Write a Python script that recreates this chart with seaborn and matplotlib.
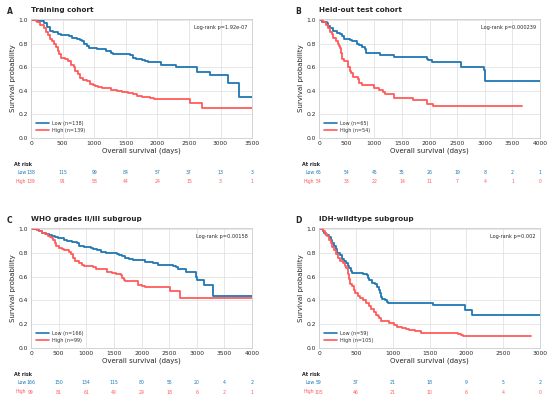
import numpy as np
import pandas as pd
import matplotlib
matplotlib.use("Agg")
import matplotlib.pyplot as plt
import matplotlib.transforms as mtransforms
import seaborn as sns

# Kaplan-Meier step points (time in days, survival after the step)
a_low_t = [0, 100, 200, 250, 300, 350, 420, 470, 600, 650, 730, 780, 800, 840, 880, 920, 1050, 1180, 1260, 1300,
           1570, 1620, 1660, 1750, 1800, 1850, 2050, 2300, 2620, 2840, 3120, 3300, 3500]
a_low_s = [1.0, 0.99, 0.97, 0.94, 0.91, 0.90, 0.88, 0.87, 0.86, 0.85, 0.84, 0.83, 0.82, 0.80, 0.78, 0.76, 0.75, 0.74, 0.72, 0.71,
           0.70, 0.68, 0.67, 0.66, 0.65, 0.64, 0.62, 0.60, 0.56, 0.53, 0.47, 0.35, 0.35]
a_high_t = [0, 80, 100, 150, 200, 230, 270, 300, 330, 370, 400, 420, 450, 480, 540, 580, 640, 680, 700, 740,
            780, 820, 880, 940, 980, 1020, 1060, 1120, 1260, 1360, 1440, 1530, 1620, 1680, 1760, 1880, 1950, 2520, 2700, 3500]
a_high_s = [1.0, 0.99, 0.98, 0.96, 0.93, 0.90, 0.87, 0.84, 0.82, 0.80, 0.77, 0.74, 0.71, 0.68, 0.67, 0.65, 0.62, 0.60, 0.57, 0.54,
            0.51, 0.49, 0.48, 0.46, 0.45, 0.44, 0.43, 0.42, 0.41, 0.40, 0.39, 0.38, 0.37, 0.36, 0.35, 0.34, 0.33, 0.30, 0.25, 0.25]

b_low_t = [0, 60, 150, 170, 200, 250, 330, 380, 420, 450, 560, 600, 680, 720, 780, 830, 850, 1100, 1360, 1960,
           1980, 2050, 2560, 2980, 2995, 3010, 4000]
b_low_s = [1.0, 0.98, 0.97, 0.95, 0.93, 0.91, 0.89, 0.88, 0.86, 0.84, 0.83, 0.82, 0.80, 0.79, 0.77, 0.75, 0.72, 0.70, 0.69, 0.67,
           0.66, 0.64, 0.60, 0.58, 0.55, 0.48, 0.48]
b_high_t = [0, 80, 120, 170, 200, 230, 260, 310, 340, 360, 380, 400, 420, 460, 520, 560, 580, 620, 700, 720,
            780, 1000, 1080, 1160, 1200, 1360, 1700, 1950, 2070, 3670]
b_high_s = [1.0, 0.98, 0.96, 0.93, 0.90, 0.88, 0.85, 0.82, 0.80, 0.78, 0.76, 0.72, 0.67, 0.65, 0.60, 0.57, 0.55, 0.52, 0.50, 0.47,
            0.45, 0.42, 0.41, 0.39, 0.37, 0.34, 0.32, 0.29, 0.27, 0.27]

c_low_t = [0, 100, 150, 200, 270, 320, 380, 430, 480, 600, 650, 740, 840, 870, 950, 1080, 1120, 1200, 1260, 1350,
           1550, 1600, 1650, 1700, 1780, 1850, 2060, 2200, 2300, 2560, 2620, 2660, 2800, 2980, 3000, 3130, 3300, 4000]
c_low_s = [1.0, 0.99, 0.98, 0.97, 0.96, 0.95, 0.94, 0.93, 0.92, 0.91, 0.90, 0.89, 0.88, 0.86, 0.85, 0.84, 0.83, 0.82, 0.81, 0.80,
           0.79, 0.78, 0.77, 0.76, 0.75, 0.74, 0.72, 0.71, 0.70, 0.69, 0.68, 0.66, 0.64, 0.60, 0.57, 0.53, 0.44, 0.44]
c_high_t = [0, 100, 150, 200, 260, 300, 340, 380, 400, 430, 460, 500, 560, 600, 680, 720, 760, 800, 860, 920,
            960, 1130, 1180, 1380, 1460, 1540, 1620, 1650, 1680, 1700, 1930, 2000, 2060, 2510, 2700, 4000]
c_high_s = [1.0, 0.99, 0.98, 0.97, 0.96, 0.94, 0.93, 0.92, 0.91, 0.88, 0.86, 0.84, 0.83, 0.82, 0.81, 0.79, 0.76, 0.73, 0.71, 0.70,
            0.69, 0.68, 0.66, 0.64, 0.63, 0.62, 0.61, 0.59, 0.57, 0.56, 0.53, 0.52, 0.51, 0.48, 0.42, 0.42]

d_low_t = [0, 50, 70, 100, 130, 160, 180, 200, 230, 250, 280, 310, 340, 370, 390, 410, 430, 450, 600, 650,
           660, 680, 720, 760, 790, 820, 830, 840, 860, 900, 920, 930, 1550, 1980, 2080, 3000]
d_low_s = [1.0, 0.98, 0.97, 0.95, 0.93, 0.91, 0.88, 0.86, 0.83, 0.80, 0.78, 0.75, 0.73, 0.71, 0.69, 0.67, 0.65, 0.63, 0.62, 0.61,
           0.59, 0.57, 0.55, 0.54, 0.51, 0.49, 0.46, 0.43, 0.41, 0.40, 0.39, 0.38, 0.36, 0.32, 0.28, 0.28]
d_high_t = [0, 50, 80, 110, 140, 160, 180, 210, 230, 260, 290, 320, 350, 370, 390, 400, 410, 420, 450, 470,
            490, 530, 560, 600, 640, 680, 710, 740, 780, 800, 820, 840, 950, 1020, 1060, 1120, 1180, 1220, 1300, 1380,
            1880, 1920, 1950, 2870]
d_high_s = [1.0, 0.98, 0.96, 0.94, 0.91, 0.88, 0.85, 0.82, 0.79, 0.76, 0.73, 0.71, 0.69, 0.67, 0.65, 0.62, 0.58, 0.54, 0.52, 0.49,
            0.46, 0.44, 0.42, 0.40, 0.38, 0.35, 0.33, 0.30, 0.28, 0.27, 0.25, 0.23, 0.21, 0.19, 0.18, 0.17, 0.16, 0.15, 0.14, 0.13,
            0.12, 0.11, 0.10, 0.10]

# Panel texts
letters = ["A", "B", "C", "D"]
titles = ["Training cohort", "Held-out test cohort", "WHO grades II/III subgroup", "IDH-wildtype subgroup"]
pvals = ["Log-rank p=1.92e-07", "Log-rank p=0.000239", "Log-rank p=0.00158", "Log-rank p=0.002"]
n_low = [138, 65, 166, 59]
n_high = [139, 54, 99, 105]
xmax = [3500, 4000, 4000, 3000]

# Numbers at risk at each 500-day tick
risk_low = [[138, 115, 99, 84, 57, 37, 13, 3],
            [65, 54, 45, 35, 26, 19, 8, 2, 1],
            [166, 150, 134, 115, 80, 55, 20, 4, 2],
            [59, 37, 21, 18, 9, 5, 2]]
risk_high = [[139, 91, 58, 44, 24, 15, 3, 1],
             [54, 33, 22, 14, 11, 7, 4, 1, 0],
             [99, 81, 61, 49, 29, 18, 6, 2, 1],
             [105, 46, 21, 10, 6, 4, 0]]

curves = [(a_low_t, a_low_s, a_high_t, a_high_s),
          (b_low_t, b_low_s, b_high_t, b_high_s),
          (c_low_t, c_low_s, c_high_t, c_high_s),
          (d_low_t, d_low_s, d_high_t, d_high_s)]

blue = "#1f77b4"
red = "#ff5a5a"

sns.set_theme(style="whitegrid")
plt.rcParams["font.family"] = ["DejaVu Sans"]
plt.rcParams["axes.edgecolor"] = "#cccccc"
plt.rcParams["grid.color"] = "#dddddd"

fig = plt.figure(figsize=(5.5, 4), dpi=100)

# axes boxes in figure fractions: left, bottom, width, height
boxes = [(0.0564, 0.655, 0.402, 0.2975),
         (0.580, 0.655, 0.402, 0.2975),
         (0.0564, 0.13, 0.402, 0.30),
         (0.580, 0.13, 0.402, 0.30)]
risk_rows = [(0.590, 0.5675, 0.545), (0.590, 0.5675, 0.545),
             (0.065, 0.0425, 0.020), (0.065, 0.0425, 0.020)]
letter_pos = [(0.012, 0.982), (0.536, 0.982), (0.012, 0.46), (0.536, 0.46)]

for i in range(4):
    ax = fig.add_axes(boxes[i])
    lt, ls, ht, hs = curves[i]
    df = pd.concat([
        pd.DataFrame({"time": lt, "surv": ls, "group": f"Low (n={n_low[i]})"}),
        pd.DataFrame({"time": ht, "surv": hs, "group": f"High (n={n_high[i]})"}),
    ])
    sns.lineplot(data=df, x="time", y="surv", hue="group", estimator=None,
                 palette=[blue, red], drawstyle="steps-post", linewidth=1.3, ax=ax)

    ax.set_xlim(0, xmax[i])
    ax.set_ylim(0, 1.008)
    ticks = np.arange(0, xmax[i] + 1, 500)
    ax.set_xticks(ticks)
    ax.set_yticks(np.arange(0, 1.01, 0.2))
    ax.yaxis.set_major_formatter(matplotlib.ticker.FormatStrFormatter("%.1f"))
    ax.tick_params(labelsize=4.3, pad=2, length=0)
    ax.set_xlabel("Overall survival (days)", fontsize=5, labelpad=1.5)
    ax.set_ylabel("Survival probability", fontsize=5, labelpad=2)
    ax.set_title(titles[i], loc="left", fontsize=5.2, fontweight="bold", pad=5)
    for sp in ax.spines.values():
        sp.set_linewidth(0.6)
    ax.grid(linewidth=0.5)

    ax.text(0.98, 0.95, pvals[i], transform=ax.transAxes, ha="right", va="top", fontsize=3.6)
    leg = ax.legend(loc="lower left", fontsize=3.5, frameon=False, handlelength=2.6,
                    borderaxespad=0.6, labelspacing=0.5)
    for ln in leg.get_lines():
        ln.set_linewidth(1.2)
    for txt in leg.get_texts():
        txt.set_color("#333333")

    fig.text(letter_pos[i][0], letter_pos[i][1], letters[i], fontsize=5.5, fontweight="bold", va="top")

    # risk table
    tr_data = mtransforms.blended_transform_factory(ax.transData, fig.transFigure)
    tr_axes = mtransforms.blended_transform_factory(ax.transAxes, fig.transFigure)
    y_head, y_low, y_high = risk_rows[i]
    ax.text(-0.077, y_head, "At risk", transform=tr_axes, ha="left", va="center", fontsize=3.5, fontweight="bold")
    ax.text(-0.022, y_low, "Low", transform=tr_axes, ha="right", va="center", fontsize=3.3, color=blue)
    ax.text(-0.022, y_high, "High", transform=tr_axes, ha="right", va="center", fontsize=3.3, color=red)
    for x, v in zip(ticks, risk_low[i]):
        ax.text(x, y_low, str(v), transform=tr_data, ha="center", va="center", fontsize=3.3, color=blue, clip_on=False)
    for x, v in zip(ticks, risk_high[i]):
        ax.text(x, y_high, str(v), transform=tr_data, ha="center", va="center", fontsize=3.3, color=red, clip_on=False)

fig.savefig("out.png", dpi=100)
